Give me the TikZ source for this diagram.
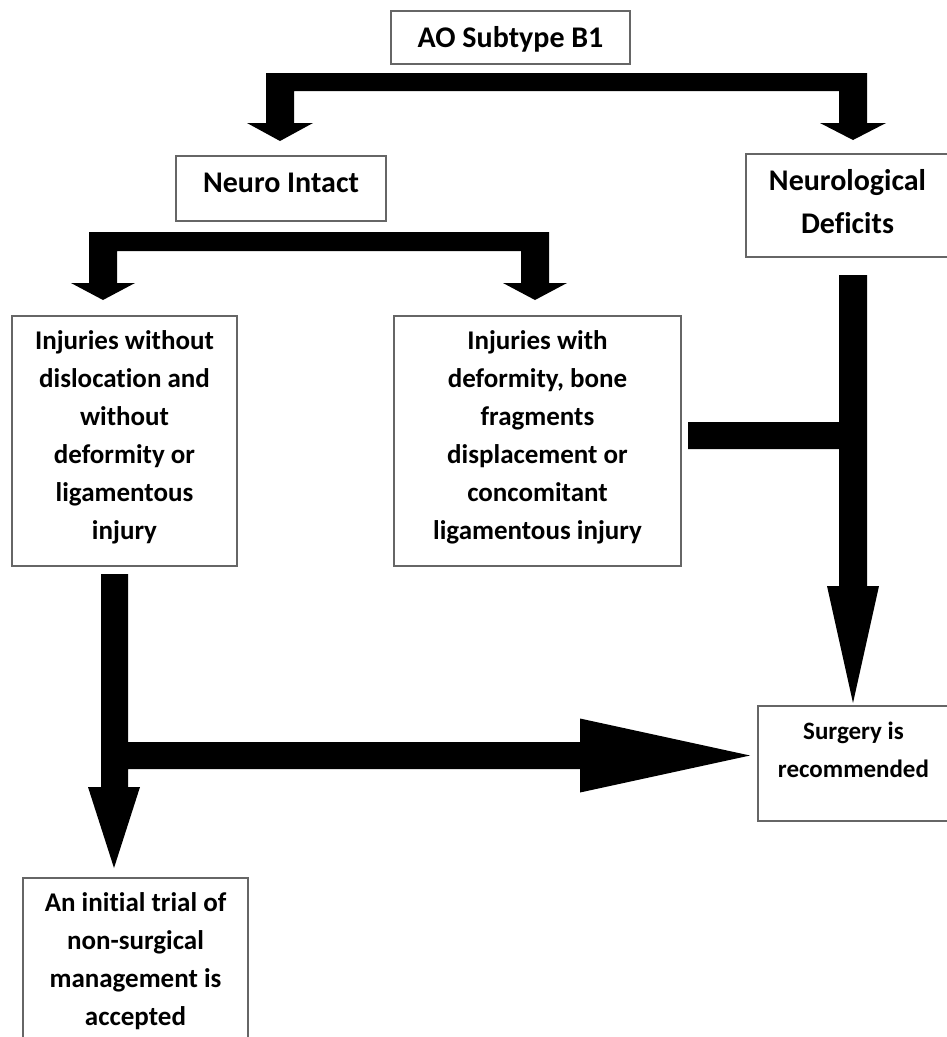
\documentclass[tikz,border=0pt]{standalone}
\usepackage{fontspec}
\setmainfont[Ligatures=CommonOff]{Carlito}
\usetikzlibrary{calc}

\newcommand{\boxtext}[3]{\parbox[c][#2][t]{#1}{\centering\vspace*{6.5pt}\strut #3}}
\newcommand{\headdown}[3]{\fill (#1) -- ++(-#2,-#3) -- ++(2*#2,0) -- cycle;}
\newcommand{\headright}[3]{\fill (#1) -- ++(-#3,-#2) -- ++(0,2*#2) -- cycle;}

\begin{document}
\begin{tikzpicture}[
x=1pt,y=-1pt,
every node/.style={draw=black!60,line width=1.2pt,inner sep=0pt,outer sep=0pt,
  font=\bfseries\fontsize{27}{38}\selectfont},
big/.style={font=\bfseries\fontsize{30}{43}\selectfont},
small/.style={font=\bfseries\fontsize{25}{38}\selectfont}
]
\useasboundingbox (0,0) rectangle (947,1037);
\node[big] (ao) at (510.5,37.5) {\boxtext{239pt}{53pt}{AO Subtype B1}};
\node[big] (intact) at (281,188.5) {\boxtext{210pt}{65pt}{Neuro Intact}};
\node[big] (deficit) at (847.5,205.5) {\boxtext{203pt}{103pt}{Neurological\\Deficits}};
\node (without) at (124.5,441) {\boxtext{225pt}{250pt}{Injuries without\\dislocation and\\without\\deformity or\\ligamentous\\injury}};
\node (with) at (537.5,441) {\boxtext{287pt}{250pt}{Injuries with\\deformity, bone\\fragments\\displacement or\\concomitant\\ligamentous injury}};
\node[small] (surgery) at (853.5,763.5) {\boxtext{191pt}{115pt}{Surgery is\\recommended}};
\node (trial) at (135.5,960) {\boxtext{225pt}{164pt}{An initial trial of\\non-surgical\\management is\\accepted}};

% arrow tips
\coordinate (tipA) at ($(intact.north)+(-1,-15)$);
\coordinate (tipB) at ($(deficit.north)+(5.5,-14)$);
\coordinate (tipC) at ($(without.north)+(-21.5,-16)$);
\coordinate (tipD) at ($(with.north)+(-2.5,-16)$);
\coordinate (tipE) at ($(surgery.north)+(-0.5,-3)$);
\coordinate (tipF) at ($(trial.north)+(-21.5,-10)$);
\coordinate (tipG) at ($(surgery.west)+(-8,-8)$);

% B1 -> intact / deficit
\fill (266,125) -- (266,73) -- (867,73) -- (867,125) -- (839,125) -- (839,91) -- (294,91) -- (294,125) -- cycle;
\headdown{tipA}{33}{18}
\headdown{tipB}{33}{17}

% intact -> without / with
\fill (89,285) -- (89,232) -- (549,232) -- (549,285) -- (521,285) -- (521,251) -- (117,251) -- (117,285) -- cycle;
\headdown{tipC}{32}{17}
\headdown{tipD}{32}{17}

% deficit, with -> surgery
\fill (839,275) -- (867,275) -- (867,588) -- (839,588) -- (839,449) -- (688,449) -- (688,422) -- (839,422) -- cycle;
\headdown{tipE}{26}{117}

% without -> trial / surgery
\fill (101,574) -- (128,574) -- (128,742) -- (582,742) -- (582,769) -- (128,769) -- (128,789) -- (101,789) -- cycle;
\headdown{tipF}{26}{81}
\headright{tipG}{37}{170}
\end{tikzpicture}
\end{document}
